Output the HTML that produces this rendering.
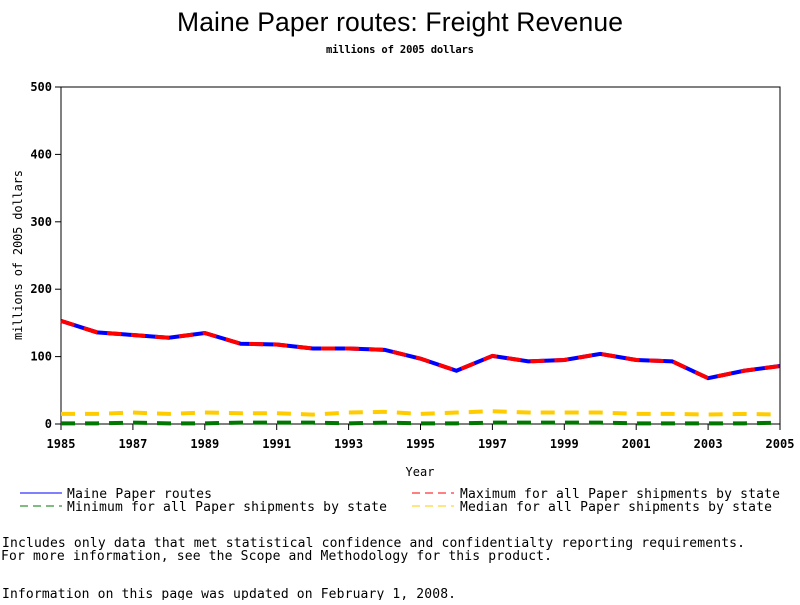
<!DOCTYPE html>
<html><head><meta charset="utf-8"><style>
body{margin:0;background:#fff;width:800px;height:600px;overflow:hidden}
svg text{font-family:"DejaVu Sans Mono","Liberation Mono",monospace}
</style></head><body>
<svg width="800" height="600">
<text x="400" y="31" text-anchor="middle" style="font-family:'Liberation Sans',sans-serif" font-size="26.5" textLength="446">Maine Paper routes: Freight Revenue</text>
<text x="400" y="53" text-anchor="middle" font-size="10.5" font-weight="bold" textLength="148">millions of 2005 dollars</text>
<rect x="61" y="87" width="719" height="337" fill="none" stroke="#000"/>
<g id="ticks"></g>
<g id="series"></g>
<text x="420" y="476" text-anchor="middle" font-size="12">Year</text>
<text transform="translate(22,255) rotate(-90)" text-anchor="middle" font-size="12" textLength="170">millions of 2005 dollars</text>
<g font-size="13">
<line x1="20" y1="493" x2="62" y2="493" stroke="#00f"/>
<text x="67" y="498" textLength="145">Maine Paper routes</text>
<line x1="412" y1="493" x2="454" y2="493" stroke="#f00" stroke-dasharray="8,5"/>
<text x="460" y="498" textLength="320">Maximum for all Paper shipments by state</text>
<line x1="20" y1="506" x2="62" y2="506" stroke="#070" stroke-dasharray="8,5"/>
<text x="67" y="511" textLength="320">Minimum for all Paper shipments by state</text>
<line x1="412" y1="506" x2="454" y2="506" stroke="#fc0" stroke-dasharray="8,5"/>
<text x="460" y="511" textLength="312">Median for all Paper shipments by state</text>
</g>
<g font-size="13">
<text x="2" y="547" textLength="743">Includes only data that met statistical confidence and confidentialty reporting requirements.</text>
<text x="1" y="560" textLength="551">For more information, see the Scope and Methodology for this product.</text>
<text x="2" y="598" textLength="454">Information on this page was updated on February 1, 2008.</text>
</g>
</svg>
<script>
const years=[1985,1986,1987,1988,1989,1990,1991,1992,1993,1994,1995,1996,1997,1998,1999,2000,2001,2002,2003,2004,2005];
const maine=[153,136,132,128,135,119,118,112,112,110,97,79,101,93,95,104,95,93,68,79,86];
const maxv=[153,136,132,128,135,119,118,112,112,110,97,79,101,93,95,104,95,93,68,79,86];
const median=[15,15,17,15,17,16,16,14,17,18,15,17,19,17,17,17,15,15,14,15,14];
const minv=[1,1,2,1,1,2,2,2,1,2,1,1,2,2,2,2,1,1,1,1,2];
const yTicks=[0,100,200,300,400,500];
const xTicks=[1985,1987,1989,1991,1993,1995,1997,1999,2001,2003,2005];
const NS="http://www.w3.org/2000/svg";
const X=y=>61+(y-1985)*719/20, Y=v=>424-v*337/500;
const tg=document.getElementById('ticks'), sg=document.getElementById('series');
function mk(tag,a,p){const e=document.createElementNS(NS,tag);for(const k in a)e.setAttribute(k,a[k]);p.appendChild(e);return e;}
yTicks.forEach(v=>{
 const l=mk('line',{x1:55,x2:61,y1:Y(v),y2:Y(v),stroke:'#000'},tg);
 
 
 const t=mk('text',{x:52,y:Y(v)+4,'text-anchor':'end','font-size':12,'font-weight':'bold'},tg);t.textContent=v;
 
 
});
xTicks.forEach(v=>{
 const l=mk('line',{x1:X(v),x2:X(v),y1:424,y2:430,stroke:'#000'},tg);
 
 
 const t=mk('text',{x:X(v),y:448,'text-anchor':'middle','font-size':12,'font-weight':'bold'},tg);t.textContent=v;
 
 
});
function line(d,color,dash,name){
 const p=mk('polyline',{points:d.map((v,i)=>X(years[i])+','+Y(v)).join(' '),fill:'none',stroke:color,'stroke-width':4,'stroke-dasharray':dash||'none'},sg);
 
 
}
line(minv,'#070','14,10','minimum-line');
line(median,'#fc0','14,10','median-line');
line(maine,'#00f',null,'maine-line');
line(maxv,'#f00','14,10','maximum-line');
</script>
</body></html>
